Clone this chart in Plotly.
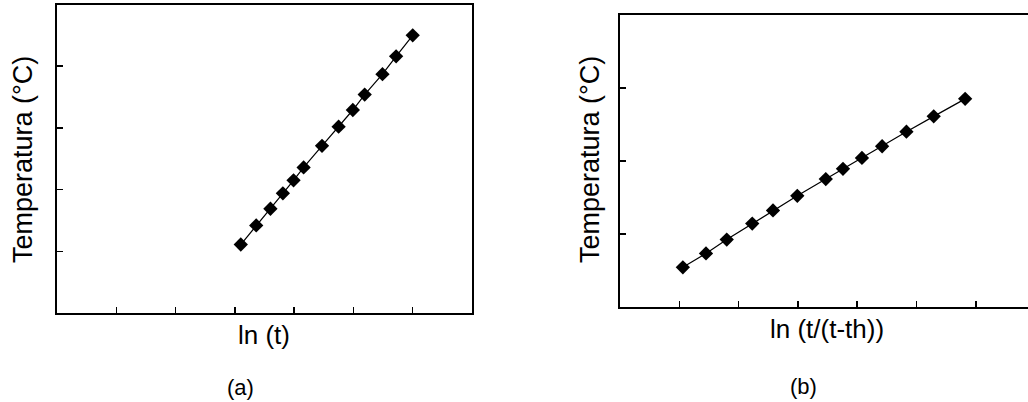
import plotly.graph_objects as go

# Panel (a): ln(t) vs Temperatura
a_x = [3.10, 3.36, 3.60, 3.81, 3.99, 4.16, 4.47, 4.75, 4.99, 5.19, 5.49, 5.72, 6.00]
a_y = [1.11, 1.42, 1.69, 1.94, 2.15, 2.36, 2.71, 3.02, 3.29, 3.54, 3.87, 4.16, 4.50]

# Panel (b): ln(t/(t-th)) vs Temperatura
b_x = [1.06, 1.45, 1.80, 2.23, 2.58, 2.99, 3.47, 3.76, 4.08, 4.42, 4.83, 5.29, 5.82]
b_y = [0.54, 0.73, 0.92, 1.14, 1.32, 1.52, 1.75, 1.89, 2.04, 2.20, 2.40, 2.61, 2.85]

a_ticks_x = [1, 2, 3, 4, 5, 6]
a_ticks_y = [1, 2, 3, 4]
b_ticks_x = [1, 2, 3, 4, 5, 6]
b_ticks_y = [1, 2, 3]

y_title = "Temperatura (°C)"
a_xtitle = "ln (t)"
b_xtitle = "ln (t/(t-th))"
a_label = "(a)"
b_label = "(b)"

W, H = 1028, 402
FONT = "Arial, Liberation Sans, sans-serif"

def px_x(p):
    return p / W

def px_y(p):
    return (H - p) / H

fig = go.Figure()
marker = dict(symbol="diamond", size=11, color="black", line=dict(width=0))
fig.add_trace(go.Scatter(x=a_x, y=a_y, mode="lines+markers", marker=marker,
                         line=dict(color="black", width=1.2), xaxis="x", yaxis="y",
                         showlegend=False, hoverinfo="skip"))
fig.add_trace(go.Scatter(x=b_x, y=b_y, mode="lines+markers", marker=marker,
                         line=dict(color="black", width=1.2), xaxis="x2", yaxis="y2",
                         showlegend=False, hoverinfo="skip"))

ax_common = dict(showgrid=False, zeroline=False, showline=True, linecolor="black",
                 linewidth=2, ticks="inside", ticklen=6, tickwidth=1.5, tickcolor="black",
                 showticklabels=False, fixedrange=True)

fig.update_layout(
    width=W, height=H, autosize=False,
    margin=dict(l=0, r=0, t=0, b=0),
    paper_bgcolor="white", plot_bgcolor="white",
    xaxis=dict(domain=[px_x(57), px_x(472)], range=[0, 7], tickvals=a_ticks_x,
               anchor="y", mirror=True, **ax_common),
    yaxis=dict(domain=[px_y(313), px_y(4.5)], range=[0, 5], tickvals=a_ticks_y,
               anchor="x", mirror=True, **ax_common),
    xaxis2=dict(domain=[px_x(620), 1.0], range=[0, 6.88], tickvals=b_ticks_x,
                anchor="y2", mirror=True, **ax_common),
    yaxis2=dict(domain=[px_y(306.7), px_y(15)], range=[0, 4], tickvals=b_ticks_y,
                anchor="x2", mirror=False, **ax_common),
)

ann = []
ann.append(dict(text=y_title, x=px_x(23), y=px_y(160), textangle=-90,
                font=dict(size=27, color="black", family=FONT)))
ann.append(dict(text=y_title, x=px_x(590), y=px_y(160), textangle=-90,
                font=dict(size=27, color="black", family=FONT)))
ann.append(dict(text=a_xtitle, x=px_x(264), y=px_y(335),
                font=dict(size=26, color="black", family=FONT)))
ann.append(dict(text=b_xtitle, x=px_x(827), y=px_y(329),
                font=dict(size=26, color="black", family=FONT)))
ann.append(dict(text=a_label, x=px_x(240), y=px_y(387),
                font=dict(size=22, color="black", family=FONT)))
ann.append(dict(text=b_label, x=px_x(803), y=px_y(386),
                font=dict(size=22, color="black", family=FONT)))
for a in ann:
    a.update(xref="paper", yref="paper", xanchor="center", yanchor="middle",
             showarrow=False)
fig.update_layout(annotations=ann)

fig.write_html("out.html", config={"displayModeBar": False, "staticPlot": True},
               post_script="document.body.style.margin='0';document.body.style.padding='0';document.body.style.overflow='hidden';")
